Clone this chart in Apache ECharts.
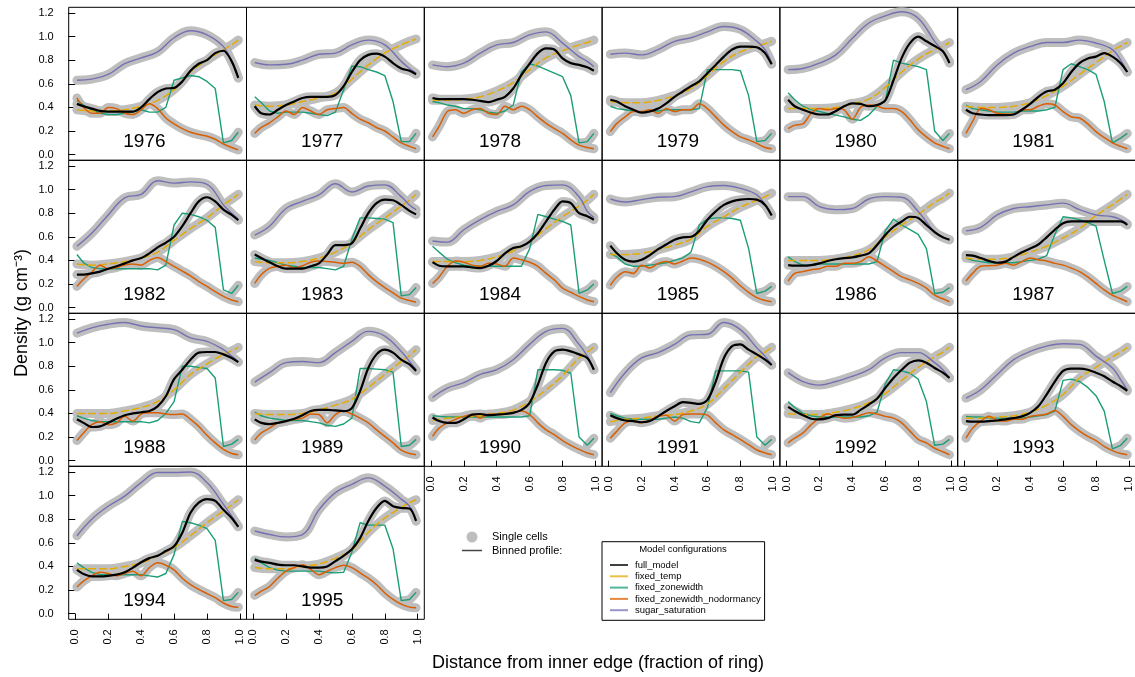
<!DOCTYPE html>
<html><head><meta charset="utf-8">
<script src="https://cdn.jsdelivr.net/npm/echarts@6/dist/echarts.min.js"></script>
<style>html,body{margin:0;padding:0;background:#fff}#c{width:1135px;height:677px}</style>
</head><body><div id="c"></div>
<script>
// ---------------- data ----------------
const years = [1976,1977,1978,1979,1980,1981,1982,1983,1984,1985,1986,1987,1988,1989,1990,1991,1992,1993,1994,1995];
const xFine = [0.01,0.05,0.1,0.15,0.2,0.25,0.3,0.35,0.4,0.45,0.5,0.55,0.6,0.65,0.7,0.75,0.8,0.85,0.9,0.95,0.99];
const xCoarse = [0.01,0.1,0.2,0.3,0.4,0.5,0.6,0.7,0.8,0.9,0.95,0.99];
const xTicks = [0,0.2,0.4,0.6,0.8,1.0];
const yTicks = [0,0.2,0.4,0.6,0.8,1.0,1.2];
const yearLabelPos = [0.42, 0.11];

// full_model (black), on xFine
const fullModel = [
[0.43,0.41,0.39,0.37,0.365,0.365,0.365,0.365,0.40,0.47,0.53,0.56,0.565,0.62,0.71,0.77,0.80,0.86,0.88,0.79,0.65],
[0.41,0.35,0.34,0.38,0.42,0.45,0.48,0.49,0.49,0.49,0.505,0.58,0.70,0.80,0.845,0.855,0.83,0.775,0.73,0.71,0.68],
[0.48,0.47,0.47,0.47,0.47,0.465,0.455,0.445,0.465,0.49,0.56,0.675,0.77,0.86,0.90,0.89,0.815,0.775,0.76,0.74,0.71],
[0.465,0.45,0.41,0.38,0.355,0.365,0.39,0.435,0.49,0.535,0.58,0.62,0.69,0.76,0.83,0.89,0.915,0.915,0.91,0.86,0.765],
[0.465,0.41,0.38,0.355,0.34,0.34,0.37,0.41,0.435,0.43,0.41,0.42,0.46,0.63,0.82,0.945,1.0,0.96,0.92,0.875,0.775],
[0.38,0.35,0.34,0.335,0.335,0.335,0.34,0.38,0.43,0.49,0.535,0.55,0.605,0.70,0.775,0.815,0.83,0.86,0.83,0.775,0.70],
[0.28,0.28,0.29,0.305,0.33,0.35,0.375,0.40,0.42,0.46,0.51,0.55,0.60,0.69,0.80,0.90,0.935,0.90,0.83,0.785,0.74],
[0.45,0.42,0.385,0.35,0.33,0.33,0.33,0.35,0.375,0.45,0.53,0.53,0.545,0.67,0.80,0.885,0.915,0.91,0.87,0.82,0.79],
[0.385,0.355,0.35,0.35,0.35,0.34,0.335,0.355,0.395,0.46,0.505,0.52,0.56,0.63,0.73,0.83,0.90,0.885,0.80,0.775,0.745],
[0.525,0.46,0.405,0.39,0.405,0.445,0.495,0.535,0.575,0.595,0.60,0.65,0.745,0.815,0.87,0.90,0.915,0.92,0.915,0.87,0.78],
[0.36,0.355,0.355,0.36,0.375,0.395,0.41,0.42,0.425,0.44,0.46,0.53,0.615,0.685,0.73,0.77,0.76,0.70,0.64,0.595,0.575],
[0.445,0.44,0.42,0.395,0.38,0.39,0.43,0.47,0.50,0.535,0.595,0.66,0.715,0.73,0.73,0.73,0.73,0.73,0.73,0.73,0.70],
[0.35,0.32,0.285,0.29,0.32,0.355,0.385,0.40,0.41,0.42,0.46,0.545,0.69,0.77,0.855,0.915,0.92,0.92,0.90,0.87,0.835],
[0.35,0.32,0.31,0.32,0.335,0.355,0.385,0.42,0.43,0.43,0.425,0.42,0.445,0.59,0.785,0.90,0.94,0.915,0.855,0.815,0.76],
[0.365,0.335,0.32,0.32,0.35,0.39,0.395,0.385,0.39,0.395,0.405,0.43,0.49,0.645,0.83,0.925,0.94,0.925,0.90,0.87,0.77],
[0.385,0.36,0.34,0.335,0.325,0.335,0.375,0.42,0.46,0.495,0.49,0.48,0.515,0.67,0.87,0.97,0.985,0.94,0.90,0.855,0.81],
[0.455,0.42,0.385,0.355,0.35,0.36,0.385,0.39,0.39,0.43,0.475,0.525,0.615,0.70,0.77,0.83,0.85,0.83,0.785,0.745,0.70],
[0.335,0.33,0.33,0.335,0.34,0.35,0.36,0.375,0.405,0.46,0.56,0.67,0.76,0.78,0.78,0.77,0.745,0.715,0.67,0.63,0.59],
[0.37,0.335,0.315,0.315,0.32,0.33,0.35,0.39,0.435,0.47,0.49,0.53,0.57,0.685,0.855,0.94,0.97,0.955,0.88,0.81,0.735],
[0.455,0.44,0.43,0.415,0.41,0.41,0.40,0.39,0.39,0.40,0.445,0.49,0.545,0.64,0.785,0.895,0.955,0.91,0.895,0.89,0.785]
];

// fixed_temp (yellow), on xCoarse
const fixedTemp = [
[0.38,0.37,0.37,0.38,0.41,0.46,0.55,0.70,0.80,0.89,0.93,0.97],
[0.42,0.41,0.42,0.45,0.48,0.52,0.64,0.76,0.86,0.93,0.96,0.98],
[0.46,0.46,0.47,0.49,0.54,0.61,0.72,0.82,0.88,0.93,0.95,0.97],
[0.45,0.44,0.44,0.46,0.50,0.56,0.67,0.79,0.87,0.92,0.94,0.96],
[0.39,0.39,0.39,0.40,0.43,0.47,0.57,0.70,0.81,0.89,0.92,0.95],
[0.41,0.40,0.40,0.41,0.44,0.50,0.58,0.68,0.78,0.88,0.92,0.95],
[0.37,0.36,0.37,0.39,0.42,0.47,0.57,0.67,0.76,0.87,0.92,0.96],
[0.39,0.38,0.38,0.39,0.42,0.47,0.55,0.66,0.76,0.86,0.91,0.96],
[0.39,0.39,0.39,0.40,0.43,0.48,0.56,0.67,0.77,0.86,0.91,0.96],
[0.45,0.45,0.46,0.49,0.53,0.58,0.69,0.77,0.85,0.91,0.94,0.97],
[0.40,0.40,0.40,0.41,0.44,0.49,0.60,0.70,0.79,0.89,0.93,0.97],
[0.42,0.41,0.41,0.43,0.47,0.52,0.59,0.67,0.78,0.87,0.92,0.96],
[0.40,0.40,0.40,0.42,0.45,0.50,0.60,0.73,0.82,0.90,0.93,0.96],
[0.40,0.39,0.39,0.40,0.43,0.47,0.52,0.62,0.73,0.84,0.89,0.94],
[0.34,0.36,0.37,0.38,0.40,0.43,0.50,0.60,0.72,0.87,0.92,0.96],
[0.33,0.35,0.36,0.38,0.39,0.42,0.48,0.61,0.75,0.88,0.92,0.96],
[0.40,0.39,0.39,0.41,0.44,0.49,0.57,0.68,0.79,0.88,0.92,0.96],
[0.36,0.36,0.37,0.38,0.41,0.47,0.56,0.70,0.79,0.88,0.92,0.96],
[0.38,0.38,0.38,0.40,0.43,0.49,0.56,0.66,0.77,0.87,0.92,0.965],
[0.39,0.38,0.38,0.40,0.42,0.47,0.54,0.69,0.81,0.90,0.94,0.965]
];

// fixed_zonewidth (green), on xFine
const fixedZonewidth = [
[0.46,0.42,0.38,0.35,0.34,0.34,0.35,0.36,0.38,0.36,0.36,0.40,0.63,0.65,0.67,0.66,0.62,0.56,0.10,0.12,0.19],
[0.49,0.44,0.37,0.35,0.36,0.36,0.36,0.35,0.34,0.33,0.36,0.55,0.75,0.745,0.72,0.70,0.67,0.45,0.11,0.11,0.18],
[0.45,0.44,0.42,0.41,0.39,0.39,0.38,0.36,0.35,0.37,0.42,0.70,0.77,0.75,0.72,0.69,0.66,0.50,0.10,0.11,0.18],
[0.41,0.39,0.38,0.37,0.36,0.37,0.37,0.38,0.38,0.38,0.38,0.39,0.72,0.72,0.72,0.72,0.71,0.50,0.11,0.12,0.18],
[0.525,0.465,0.41,0.38,0.365,0.35,0.335,0.32,0.30,0.29,0.335,0.41,0.45,0.80,0.775,0.76,0.745,0.72,0.20,0.12,0.18],
[0.42,0.39,0.38,0.37,0.36,0.36,0.36,0.37,0.37,0.37,0.38,0.40,0.72,0.77,0.745,0.72,0.68,0.45,0.10,0.14,0.18],
[0.45,0.38,0.34,0.33,0.33,0.33,0.33,0.33,0.33,0.33,0.32,0.36,0.70,0.80,0.79,0.77,0.74,0.68,0.15,0.12,0.19],
[0.42,0.41,0.40,0.38,0.36,0.35,0.34,0.34,0.34,0.33,0.32,0.35,0.58,0.76,0.76,0.755,0.75,0.72,0.10,0.11,0.17],
[0.52,0.47,0.41,0.38,0.36,0.35,0.35,0.35,0.35,0.35,0.35,0.35,0.50,0.79,0.77,0.75,0.73,0.70,0.12,0.15,0.20],
[0.46,0.43,0.37,0.35,0.35,0.36,0.37,0.38,0.40,0.42,0.47,0.70,0.75,0.76,0.76,0.755,0.74,0.50,0.12,0.14,0.18],
[0.43,0.39,0.36,0.36,0.37,0.37,0.37,0.37,0.37,0.37,0.37,0.39,0.65,0.75,0.70,0.66,0.62,0.50,0.12,0.13,0.17],
[0.42,0.40,0.39,0.38,0.38,0.38,0.38,0.39,0.40,0.41,0.44,0.62,0.77,0.76,0.745,0.72,0.69,0.40,0.12,0.14,0.18],
[0.38,0.36,0.34,0.33,0.33,0.33,0.33,0.33,0.33,0.32,0.34,0.40,0.50,0.80,0.80,0.79,0.78,0.70,0.12,0.14,0.18],
[0.41,0.38,0.36,0.35,0.34,0.34,0.34,0.33,0.32,0.30,0.29,0.31,0.36,0.78,0.78,0.775,0.77,0.75,0.12,0.13,0.18],
[0.38,0.375,0.37,0.37,0.37,0.37,0.37,0.37,0.37,0.37,0.37,0.37,0.38,0.77,0.77,0.77,0.765,0.74,0.20,0.13,0.19],
[0.40,0.38,0.36,0.35,0.35,0.35,0.35,0.36,0.37,0.36,0.33,0.32,0.45,0.76,0.76,0.76,0.76,0.75,0.20,0.13,0.18],
[0.50,0.45,0.40,0.38,0.37,0.37,0.37,0.37,0.37,0.37,0.38,0.41,0.65,0.77,0.76,0.74,0.69,0.50,0.13,0.14,0.18],
[0.375,0.37,0.37,0.36,0.36,0.36,0.36,0.36,0.37,0.38,0.39,0.42,0.68,0.69,0.67,0.62,0.55,0.42,0.10,0.13,0.19],
[0.43,0.39,0.35,0.33,0.33,0.33,0.33,0.33,0.33,0.32,0.31,0.34,0.50,0.78,0.77,0.75,0.72,0.62,0.11,0.12,0.18],
[0.47,0.43,0.39,0.37,0.36,0.36,0.36,0.36,0.36,0.35,0.345,0.35,0.52,0.77,0.75,0.75,0.75,0.55,0.11,0.12,0.18]
];

// fixed_zonewidth_nodormancy (orange), on xFine
const noDormancy = [
[0.48,0.40,0.35,0.35,0.40,0.39,0.35,0.34,0.38,0.43,0.39,0.31,0.26,0.22,0.19,0.17,0.155,0.13,0.09,0.06,0.04],
[0.18,0.23,0.27,0.32,0.37,0.34,0.40,0.37,0.34,0.38,0.39,0.40,0.35,0.30,0.27,0.23,0.20,0.15,0.10,0.07,0.05],
[0.15,0.24,0.365,0.38,0.35,0.38,0.39,0.35,0.34,0.41,0.38,0.41,0.38,0.32,0.265,0.22,0.18,0.125,0.08,0.06,0.05],
[0.195,0.265,0.32,0.365,0.365,0.38,0.35,0.39,0.365,0.38,0.38,0.43,0.39,0.32,0.25,0.195,0.15,0.125,0.095,0.06,0.05],
[0.22,0.25,0.26,0.35,0.39,0.38,0.39,0.38,0.30,0.40,0.42,0.41,0.39,0.39,0.365,0.295,0.21,0.15,0.10,0.07,0.05],
[0.18,0.28,0.39,0.38,0.35,0.345,0.345,0.38,0.38,0.41,0.43,0.42,0.365,0.32,0.31,0.26,0.195,0.145,0.10,0.07,0.05],
[0.18,0.24,0.30,0.36,0.33,0.34,0.36,0.37,0.36,0.40,0.425,0.39,0.35,0.31,0.27,0.22,0.18,0.135,0.095,0.065,0.05],
[0.205,0.28,0.335,0.35,0.36,0.335,0.355,0.385,0.395,0.39,0.385,0.375,0.385,0.35,0.28,0.22,0.17,0.125,0.08,0.06,0.045],
[0.205,0.26,0.35,0.395,0.385,0.36,0.35,0.375,0.37,0.35,0.42,0.405,0.385,0.35,0.29,0.235,0.165,0.13,0.095,0.065,0.05],
[0.19,0.26,0.305,0.29,0.36,0.335,0.375,0.39,0.37,0.395,0.42,0.41,0.385,0.35,0.305,0.25,0.185,0.13,0.085,0.06,0.05],
[0.225,0.29,0.305,0.32,0.33,0.35,0.35,0.375,0.375,0.39,0.43,0.395,0.35,0.305,0.26,0.235,0.205,0.165,0.105,0.075,0.05],
[0.225,0.29,0.35,0.355,0.36,0.375,0.36,0.39,0.42,0.405,0.395,0.375,0.36,0.335,0.305,0.26,0.205,0.15,0.105,0.075,0.05],
[0.17,0.235,0.305,0.33,0.305,0.32,0.375,0.335,0.395,0.405,0.405,0.395,0.39,0.395,0.35,0.29,0.215,0.15,0.095,0.06,0.05],
[0.175,0.235,0.275,0.32,0.335,0.35,0.36,0.395,0.39,0.32,0.39,0.42,0.395,0.36,0.32,0.26,0.205,0.15,0.09,0.06,0.05],
[0.205,0.275,0.32,0.35,0.375,0.39,0.36,0.395,0.39,0.395,0.41,0.42,0.39,0.32,0.26,0.22,0.17,0.13,0.095,0.065,0.05],
[0.19,0.25,0.32,0.335,0.32,0.345,0.375,0.385,0.335,0.39,0.395,0.395,0.385,0.32,0.26,0.22,0.18,0.135,0.09,0.065,0.05],
[0.15,0.19,0.235,0.305,0.36,0.395,0.375,0.36,0.365,0.385,0.405,0.395,0.375,0.36,0.32,0.25,0.18,0.15,0.105,0.075,0.05],
[0.19,0.275,0.335,0.375,0.34,0.335,0.35,0.35,0.375,0.385,0.395,0.425,0.375,0.305,0.25,0.205,0.17,0.12,0.085,0.06,0.05],
[0.225,0.275,0.32,0.35,0.34,0.32,0.34,0.36,0.32,0.39,0.43,0.41,0.37,0.30,0.245,0.205,0.17,0.135,0.09,0.06,0.055],
[0.155,0.19,0.23,0.30,0.36,0.39,0.415,0.375,0.33,0.36,0.39,0.41,0.39,0.345,0.30,0.245,0.175,0.12,0.08,0.055,0.05]
];

// sugar_saturation (purple), on xCoarse
const sugarSaturation = [
[0.63,0.64,0.68,0.77,0.82,0.87,0.99,1.05,1.015,0.915,0.79,0.65],
[0.78,0.76,0.765,0.80,0.85,0.86,0.93,0.97,0.93,0.79,0.73,0.69],
[0.76,0.745,0.775,0.86,0.93,0.95,1.015,1.04,0.945,0.83,0.79,0.745],
[0.85,0.86,0.845,0.89,0.96,0.99,1.04,1.085,1.06,0.96,0.89,0.775],
[0.72,0.73,0.775,0.845,0.985,1.115,1.175,1.21,1.155,0.96,0.875,0.79],
[0.55,0.62,0.76,0.86,0.915,0.95,0.95,0.97,0.945,0.89,0.80,0.70],
[0.52,0.63,0.785,0.93,0.96,1.075,1.055,1.065,1.045,0.87,0.80,0.75],
[0.615,0.69,0.84,0.90,0.955,1.05,0.98,1.03,1.04,0.94,0.87,0.83],
[0.565,0.555,0.66,0.745,0.815,0.87,0.985,1.035,1.04,0.94,0.815,0.765],
[0.92,0.895,0.915,0.935,0.94,0.98,1.025,1.035,1.01,0.955,0.87,0.785],
[0.94,0.94,0.855,0.83,0.84,0.92,0.94,0.935,0.815,0.64,0.60,0.575],
[0.65,0.68,0.785,0.84,0.855,0.87,0.885,0.83,0.785,0.77,0.745,0.71],
[1.08,1.125,1.155,1.17,1.14,1.125,1.11,1.04,1.01,0.94,0.885,0.835],
[0.665,0.745,0.83,0.84,0.83,0.915,1.01,1.095,1.055,0.925,0.84,0.77],
[0.535,0.615,0.66,0.73,0.77,0.855,0.985,1.095,1.12,0.985,0.885,0.77],
[0.575,0.745,0.87,0.915,0.985,1.065,1.07,1.17,1.11,0.955,0.885,0.81],
[0.745,0.67,0.64,0.67,0.715,0.77,0.87,0.915,0.915,0.83,0.77,0.70],
[0.53,0.60,0.73,0.855,0.925,0.97,0.99,0.985,0.885,0.785,0.685,0.60],
[0.66,0.80,0.91,0.995,1.11,1.195,1.195,1.20,1.11,0.925,0.825,0.74],
[0.70,0.67,0.65,0.67,0.88,1.025,1.095,1.15,1.08,0.97,0.91,0.785]
];

// ---------------- styling / layout ----------------
const FONT = '"Liberation Sans", Arial, Helvetica, sans-serif';
const COL = {full:'#000000', temp:'#E6AB02', zone:'#1B9E77', nodorm:'#D95F02', sugar:'#7570B3', cells:'#BEBEBE'};
const nCol = 6, panelW = 177.8, panelH = 153, left0 = 68.7, top0 = 7.3;

const pairs = (xs, ys) => xs.map((x, k) => [x, ys[k]]);

const grids = [], xAxes = [], yAxes = [], series = [];
years.forEach((yr, i) => {
  const r = Math.floor(i / nCol), c = i % nCol;
  grids.push({left: left0 + c * panelW, top: top0 + r * panelH, width: panelW, height: panelH,
    show: true, borderColor: '#000', borderWidth: 1, backgroundColor: 'transparent',
    containLabel: false, outerBoundsMode: 'none'});
  const showX = (i + nCol >= years.length);
  const showY = (c === 0);
  xAxes.push({type: 'value', gridIndex: i, min: -0.04, max: 1.04,
    axisLine: {show: false}, splitLine: {show: false},
    axisTick: {show: showX, customValues: xTicks, length: 6, lineStyle: {color: '#000', width: 1}},
    axisLabel: {show: showX, customValues: xTicks, rotate: 90, margin: 10,
      formatter: v => Number(v).toFixed(1), fontFamily: FONT, fontSize: 11, color: '#000'}});
  yAxes.push({type: 'value', gridIndex: i, min: -0.048, max: 1.248,
    axisLine: {show: false}, splitLine: {show: false},
    axisTick: {show: showY, customValues: yTicks, length: 7, lineStyle: {color: '#000', width: 1}},
    axisLabel: {show: showY, customValues: yTicks, margin: 15,
      formatter: v => Number(v).toFixed(1), fontFamily: FONT, fontSize: 11, color: '#000'}});

  const black = pairs(xFine, fullModel[i]);
  const yellow = pairs(xCoarse, fixedTemp[i]);
  const green = pairs(xFine, fixedZonewidth[i]);
  const orange = pairs(xFine, noDormancy[i]);
  const purple = pairs(xCoarse, sugarSaturation[i]);
  // green tail (after its drop) carries a cloud of single cells
  let kMin = 15;
  for (let k = 15; k < green.length; k++) if (green[k][1] < green[kMin][1]) kMin = k;
  const greenTail = green.slice(kMin);

  const base = {type: 'line', xAxisIndex: i, yAxisIndex: i, symbol: 'none', silent: true, animation: false};
  // single-cell clouds (grey halos)
  [[purple, 0.4], [black, 0.3], [yellow, 0.4], [orange, 0.3], [greenTail, 0.3]].forEach(([d, sm]) => {
    series.push(Object.assign({}, base, {data: d, smooth: sm,
      lineStyle: {color: COL.cells, width: 9, cap: 'round', join: 'round'}}));
  });
  // binned profiles
  series.push(Object.assign({}, base, {name: 'fixed_zonewidth', data: green, smooth: false,
    lineStyle: {color: COL.zone, width: 1.4}}));
  series.push(Object.assign({}, base, {name: 'fixed_temp', data: yellow, smooth: 0.4,
    lineStyle: {color: COL.temp, width: 1.5, type: [8, 3]}}));
  series.push(Object.assign({}, base, {name: 'fixed_zonewidth_nodormancy', data: orange, smooth: 0.3,
    lineStyle: {color: COL.nodorm, width: 1.5}}));
  series.push(Object.assign({}, base, {name: 'sugar_saturation', data: purple, smooth: 0.4,
    lineStyle: {color: COL.sugar, width: 1.4}}));
  series.push(Object.assign({}, base, {name: 'full_model', data: black, smooth: 0.3,
    lineStyle: {color: COL.full, width: 2.2}}));
  // year label
  series.push({type: 'scatter', xAxisIndex: i, yAxisIndex: i, silent: true, animation: false, z: 5,
    data: [yearLabelPos], symbolSize: 1, itemStyle: {color: 'rgba(0,0,0,0)'},
    label: {show: true, position: 'inside', formatter: String(yr), fontFamily: FONT, fontSize: 19,
      color: '#000', opacity: 1, textBorderWidth: 0, textShadowBlur: 0}});
});

const legendItems = [
  ['full_model', COL.full], ['fixed_temp', COL.temp], ['fixed_zonewidth', COL.zone],
  ['fixed_zonewidth_nodormancy', COL.nodorm], ['sugar_saturation', COL.sugar]
];
const graphic = [
  {type: 'text', x: 22, y: 313, rotation: Math.PI / 2,
    style: {text: 'Density (g cm\u207B\u00B3)', font: '18px ' + FONT, fill: '#000', textAlign: 'center', textVerticalAlign: 'middle'}},
  {type: 'text', x: 598, y: 663,
    style: {text: 'Distance from inner edge (fraction of ring)', font: '18px ' + FONT, fill: '#000', textAlign: 'center', textVerticalAlign: 'middle'}},
  {type: 'circle', shape: {cx: 472, cy: 537, r: 5.5}, style: {fill: COL.cells}},
  {type: 'text', x: 492, y: 537, style: {text: 'Single cells', font: '11px ' + FONT, fill: '#000', textAlign: 'left', textVerticalAlign: 'middle'}},
  {type: 'line', shape: {x1: 462, y1: 550.5, x2: 482, y2: 550.5}, style: {stroke: '#444', lineWidth: 1.5}},
  {type: 'text', x: 492, y: 550.5, style: {text: 'Binned profile:', font: '11px ' + FONT, fill: '#000', textAlign: 'left', textVerticalAlign: 'middle'}},
  {type: 'rect', shape: {x: 602, y: 541.7, width: 162.6, height: 78.6}, style: {fill: '#fff', stroke: '#000', lineWidth: 1}},
  {type: 'text', x: 683, y: 549.7, style: {text: 'Model configurations', font: '9.5px ' + FONT, fill: '#000', textAlign: 'center', textVerticalAlign: 'middle'}}
];
legendItems.forEach(([name, col], k) => {
  const yy = 565 + k * 11.3;
  graphic.push({type: 'line', shape: {x1: 610, y1: yy, x2: 628, y2: yy}, style: {stroke: col, lineWidth: 2, opacity: 0.75}});
  graphic.push({type: 'text', x: 635, y: yy, style: {text: name, font: '9.5px ' + FONT, fill: '#000', textAlign: 'left', textVerticalAlign: 'middle'}});
});

const chart = echarts.init(document.getElementById('c'), null, {renderer: 'canvas'});
chart.setOption({
  animation: false,
  backgroundColor: '#fff',
  textStyle: {fontFamily: FONT},
  grid: grids, xAxis: xAxes, yAxis: yAxes, series: series, graphic: graphic
});
</script></body></html>
